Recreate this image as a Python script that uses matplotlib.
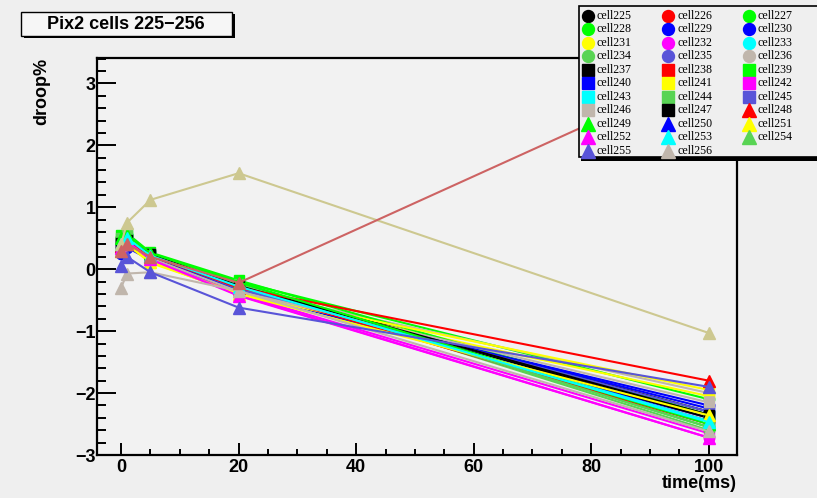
import matplotlib
matplotlib.use('Agg')
import matplotlib.pyplot as plt
from matplotlib.lines import Line2D
from matplotlib.patches import Rectangle
from matplotlib.ticker import MultipleLocator, FixedLocator

# ---------------- data ----------------
time_ms = [0, 1, 5, 20, 100]
cells = ["cell225", "cell226", "cell227", "cell228", "cell229", "cell230", "cell231", "cell232",
         "cell233", "cell234", "cell235", "cell236", "cell237", "cell238", "cell239", "cell240",
         "cell241", "cell242", "cell243", "cell244", "cell245", "cell246", "cell247", "cell248",
         "cell249", "cell250", "cell251", "cell252", "cell253", "cell254", "cell255", "cell256"]

c225 = [0.40, 0.45, 0.22, -0.27, -2.30]
c226 = [0.35, 0.42, 0.20, -0.30, -2.45]
c227 = [0.50, 0.55, 0.25, -0.20, -2.10]
c228 = [0.45, 0.52, 0.24, -0.22, -2.55]
c229 = [0.30, 0.40, 0.18, -0.35, -2.40]
c230 = [0.25, 0.35, 0.15, -0.38, -2.20]
c231 = [0.35, 0.45, 0.12, -0.40, -2.05]
c232 = [0.45, 0.48, 0.17, -0.42, -2.72]
c233 = [0.40, 0.50, 0.22, -0.25, -2.50]
c234 = [0.48, 0.55, 0.26, -0.22, -2.60]
c235 = [0.30, 0.45, 0.20, -0.30, -2.35]
c236 = [0.35, 0.45, 0.20, -0.32, -2.00]
c237 = [0.45, 0.48, 0.23, -0.25, -2.40]
c238 = [0.40, 0.45, 0.20, -0.30, -2.50]
c239 = [0.55, 0.58, 0.27, -0.18, -2.35]
c240 = [0.35, 0.40, 0.18, -0.33, -2.25]
c241 = [0.30, 0.40, 0.10, -0.38, -1.95]
c242 = [0.38, 0.45, 0.15, -0.40, -2.65]
c243 = [0.42, 0.50, 0.22, -0.28, -2.45]
c244 = [0.50, 0.55, 0.25, -0.24, -2.55]
c245 = [0.38, 0.42, 0.24, -0.32, -2.30]
c246 = [0.40, 0.45, 0.18, -0.36, -2.15]
c247 = [0.42, 0.47, 0.24, -0.27, -2.35]
c248 = [0.38, 0.45, 0.22, -0.30, -1.80]
c249 = [0.50, 0.55, 0.26, -0.21, -2.50]
c250 = [0.30, 0.40, 0.20, -0.22, 3.22]
c251 = [0.30, 0.40, 0.12, -0.40, -2.36]
c252 = [0.35, 0.45, 0.16, -0.43, -2.72]
c253 = [0.40, 0.50, 0.22, -0.28, -2.47]
c254 = [0.40, 0.75, 1.12, 1.55, -1.03]
c255 = [0.05, 0.20, -0.05, -0.62, -1.90]
c256 = [-0.30, -0.07, -0.05, -0.35, -2.62]

series = [c225, c226, c227, c228, c229, c230, c231, c232, c233, c234, c235, c236,
          c237, c238, c239, c240, c241, c242, c243, c244, c245, c246, c247, c248,
          c249, c250, c251, c252, c253, c254, c255, c256]

x_ticks = [0, 20, 40, 60, 80, 100]
y_ticks = [-3, -2, -1, 0, 1, 2, 3]

# ---------------- styles ----------------
BLK, RED, GRN, BLU, YEL, MAG, CYN, GR8, BL9, GRY = (
    '#000000', '#ff0000', '#00ff00', '#0000ff', '#ffff00', '#ff00ff', '#00ffff',
    '#59d454', '#5954d8', '#c0b6ac')
legend_colors = [BLK, RED, GRN, GRN, BLU, BLU, YEL, MAG, CYN, GR8, BL9, GRY,
                 BLK, RED, GRN, BLU, YEL, MAG, CYN, GR8, BL9, GRY,
                 BLK, RED, GRN, BLU, YEL, MAG, CYN, GR8, BL9, GRY]
plot_colors = list(legend_colors)
plot_colors[25] = '#cd6363'   # indianred line
plot_colors[29] = '#cdc890'   # khaki line
markers = ['o'] * 12 + ['s'] * 11 + ['^'] * 9
on_top = {25: 3.0, 29: 2.9, 30: 2.8}

BG = '#efefef'
W, H = 817, 498


def fx(px):
    return px / W


def fy(py):
    return 1 - py / H


fig = plt.figure(figsize=(8.17, 4.98), dpi=100, facecolor=BG)
ax = fig.add_axes([fx(97), fy(455), fx(737) - fx(97), fy(58) - fy(455)])
ax.set_facecolor('#f2f2f2')

for i, vals in enumerate(series):
    ms = 9.0 if markers[i] == '^' else 7.5
    ax.plot(time_ms, vals, color=plot_colors[i], lw=1.5, marker=markers[i],
            ms=ms, mec=plot_colors[i], mfc=plot_colors[i],
            zorder=on_top.get(i, 2 + i * 0.01))

ax.set_xlim(-4.1, 104.8)
ax.set_ylim(-3.0, 3.41)
ax.xaxis.set_major_locator(FixedLocator(x_ticks))
ax.xaxis.set_minor_locator(MultipleLocator(5))
ax.yaxis.set_major_locator(FixedLocator(y_ticks))
ax.yaxis.set_minor_locator(MultipleLocator(0.2))

tick_font = dict(family='Liberation Sans', weight='bold', size=13)
ax.set_xticklabels([str(v) for v in x_ticks], fontdict=tick_font)
ax.set_yticklabels([('\u2212' + str(-v)) if v < 0 else str(v) for v in y_ticks], fontdict=tick_font)

ax.tick_params(axis='both', which='both', direction='in', top=False, right=False, colors='black')
ax.tick_params(axis='y', which='major', length=13.5, width=1.4, pad=1)
ax.tick_params(axis='y', which='minor', length=6.5, width=1.4)
ax.tick_params(axis='x', which='major', length=8.5, width=1.4, pad=3)
ax.tick_params(axis='x', which='minor', length=4.2, width=1.4)
for sp in ax.spines.values():
    sp.set_linewidth(1.6)
    sp.set_color('black')

fig.text(fx(42), fy(58), 'droop%', rotation=90, ha='center', va='top',
         family='Liberation Sans', weight='bold', size=13)
fig.text(fx(737), fy(483), 'time(ms)', ha='right', va='center',
         family='Liberation Sans', weight='bold', size=13)

# ---------------- title box ----------------
fig.add_artist(Rectangle((fx(23.5), fy(38.5)), fx(232) - fx(21), fy(11.7) - fy(35.7),
                         transform=fig.transFigure, facecolor='black', edgecolor='none', zorder=5))
fig.add_artist(Rectangle((fx(20.7), fy(35.7)), fx(232) - fx(20.7), fy(11.7) - fy(35.7),
                         transform=fig.transFigure, facecolor='#f6f6f6', edgecolor='black',
                         lw=1.0, zorder=6))
fig.text(fx(126), fy(24.5), 'Pix2 cells 225\u2212256', ha='center', va='center',
         family='Liberation Sans', weight='bold', size=13, zorder=7)

# ---------------- legend ----------------
fig.add_artist(Rectangle((fx(581), fy(161)), fx(830) - fx(581), fy(9) - fy(161),
                         transform=fig.transFigure, facecolor='black', edgecolor='none', zorder=5))
fig.add_artist(Rectangle((fx(578.5), fy(157.5)), fx(830) - fx(578.5), fy(6.5) - fy(157.5),
                         transform=fig.transFigure, facecolor=BG, edgecolor='black',
                         lw=1.2, zorder=6))
for i, lab in enumerate(cells):
    row, col = divmod(i, 3)
    mx = 587.7 + col * 80.4
    my = 15.8 + row * 13.5
    ms = 9.5 if markers[i] == '^' else 8.6
    fig.add_artist(Line2D([fx(mx)], [fy(my)], transform=fig.transFigure, marker=markers[i],
                          ms=ms, color=legend_colors[i], mec=legend_colors[i], ls='none', zorder=7))
    fig.text(fx(mx + 9), fy(my), lab, ha='left', va='center', family='Liberation Serif',
             size=8.6, zorder=7)

fig.savefig('out.png', dpi=100, facecolor=BG)
